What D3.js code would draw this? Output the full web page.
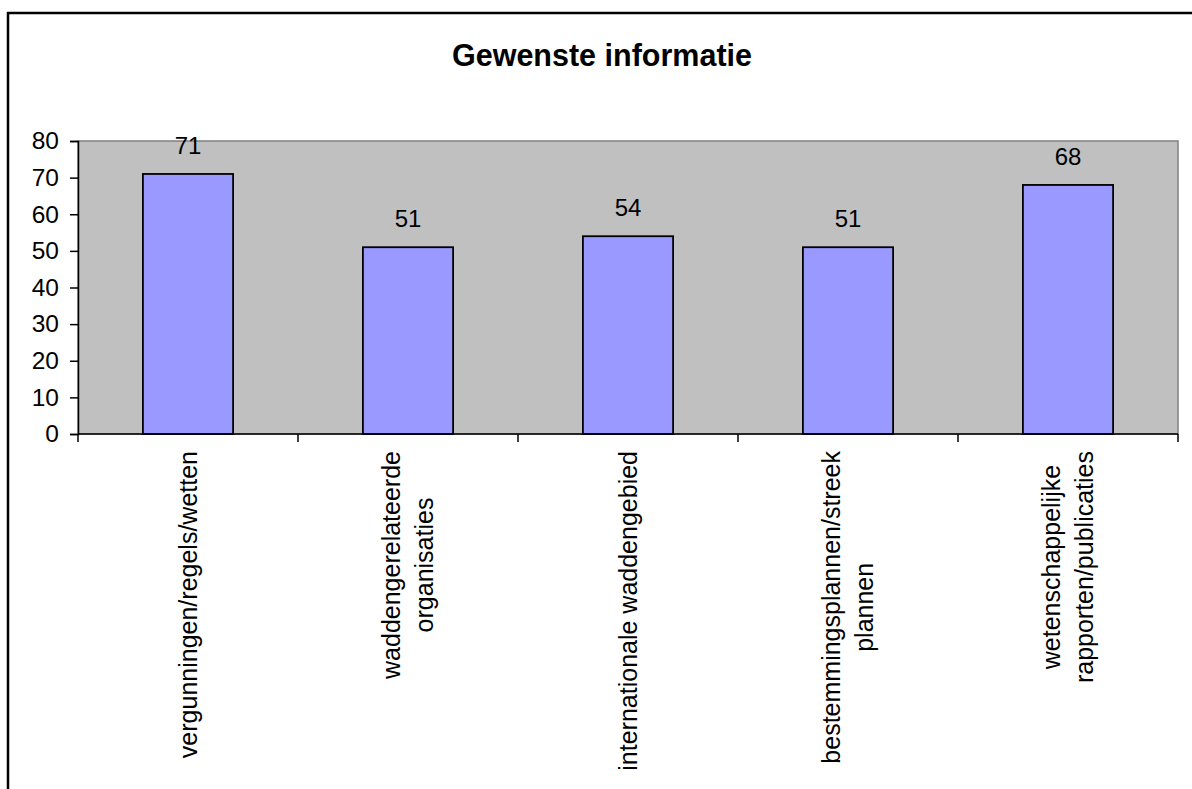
<!DOCTYPE html>
<html>
<head>
<meta charset="utf-8">
<script src="https://cdn.jsdelivr.net/npm/d3@7"></script>
<style>
  body { margin: 0; background: #fff; }
  svg { display: block; font-family: "Liberation Sans", Arial, sans-serif; }
</style>
</head>
<body>
<svg id="chart"></svg>
<script>
// --- Data ---
const titleText = "Gewenste informatie";
const categories = [
  ["vergunningen/regels/wetten"],
  ["waddengerelateerde", "organisaties"],
  ["internationale waddengebied"],
  ["bestemmingsplannen/streek", "plannen"],
  ["wetenschappelijke", "rapporten/publicaties"]
];
const values = [71, 51, 54, 51, 68];
const yTicks = [0, 10, 20, 30, 40, 50, 60, 70, 80];

// --- Layout ---
const W = 1192, H = 789;
const plot = { left: 78, top: 141, right: 1178, bottom: 434 };

const svg = d3.select("#chart").attr("width", W).attr("height", H);

// outer chart border (runs off right and bottom edges)
svg.append("rect")
  .attr("x", 8).attr("y", 13)
  .attr("width", 1190).attr("height", 800)
  .attr("fill", "#fff")
  .attr("stroke", "#000")
  .attr("stroke-width", 2.5);

svg.append("text")
  .attr("x", 602).attr("y", 66)
  .attr("text-anchor", "middle")
  .attr("font-size", 30.5).attr("font-weight", "bold")
  .text(titleText);

// --- Scales ---
const idx = d3.range(categories.length);
const x = d3.scaleBand().domain(idx).range([plot.left, plot.right]).paddingInner(0.59).paddingOuter(0.295);
const xBand = d3.scaleBand().domain(idx).range([plot.left, plot.right]);
const y = d3.scaleLinear().domain([0, 80]).range([plot.bottom, plot.top]);

// plot area background
svg.append("rect")
  .attr("x", plot.left).attr("y", plot.top)
  .attr("width", plot.right - plot.left).attr("height", plot.bottom - plot.top)
  .attr("fill", "#c0c0c0")
  .attr("stroke", "#808080").attr("stroke-width", 1.5);

// bars
svg.selectAll(".bar")
  .data(values)
  .enter().append("rect")
  .attr("class", "bar")
  .attr("x", (d, i) => x(i))
  .attr("width", x.bandwidth())
  .attr("y", d => y(d))
  .attr("height", d => y(0) - y(d))
  .attr("fill", "#9999ff")
  .attr("stroke", "#000").attr("stroke-width", 1.8);

// value labels
svg.selectAll(".val")
  .data(values)
  .enter().append("text")
  .attr("class", "val")
  .attr("x", (d, i) => x(i) + x.bandwidth() / 2)
  .attr("y", d => y(d) - 20)
  .attr("text-anchor", "middle")
  .attr("font-size", 24)
  .text(d => d);

// --- Axes ---
const yAxis = d3.axisLeft(y).tickValues(yTicks).tickSize(8).tickPadding(11);
const yG = svg.append("g").attr("transform", `translate(${plot.left},0)`).call(yAxis);
yG.select(".domain").attr("stroke", "#000").attr("stroke-width", 1.5);
yG.selectAll(".tick line").attr("stroke", "#000").attr("stroke-width", 1.5);
yG.selectAll(".tick text").attr("font-size", 24.5).attr("font-family", "Liberation Sans, Arial, sans-serif").attr("fill", "#000");

// x axis: baseline + ticks at band boundaries
const bounds = idx.map(i => xBand(i)).concat([plot.right]);
svg.append("line")
  .attr("x1", plot.left).attr("x2", plot.right)
  .attr("y1", y(0)).attr("y2", y(0))
  .attr("stroke", "#000").attr("stroke-width", 1.5);
svg.selectAll(".xtick")
  .data(bounds)
  .enter().append("line")
  .attr("x1", d => d).attr("x2", d => d)
  .attr("y1", y(0)).attr("y2", y(0) + 8)
  .attr("stroke", "#000").attr("stroke-width", 1.5);

// category labels, rotated, block top aligned below axis
const labelTop = 451, linePitch = 33, catFont = 25;
categories.forEach((lines, i) => {
  const cx = xBand(i) + xBand.bandwidth() / 2;
  const g = svg.append("g").attr("transform", `translate(${cx},${labelTop}) rotate(-90)`);
  const texts = lines.map((line, j) =>
    g.append("text")
      .attr("y", (j - (lines.length - 1) / 2) * linePitch)
      .attr("dy", "0.35em")
      .attr("text-anchor", "middle")
      .attr("font-size", catFont)
      .text(line)
  );
  const maxLen = d3.max(texts, t => t.node().getComputedTextLength());
  texts.forEach(t => t.attr("x", -maxLen / 2));
});
</script>
</body>
</html>
